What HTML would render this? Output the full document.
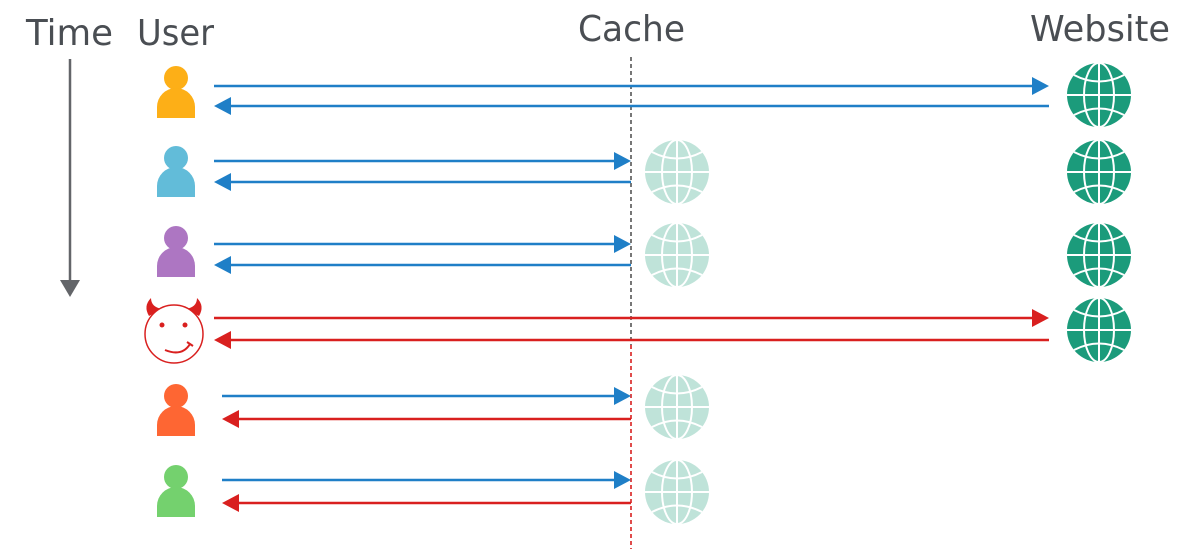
<!DOCTYPE html>
<html><head><meta charset="utf-8"><style>
html,body{margin:0;padding:0;background:#fff;}
svg{display:block;}
text{font-family:"DejaVu Sans","Liberation Sans",sans-serif;fill:#4a4e53;font-size:36px;}
</style></head><body>
<svg width="1200" height="555" viewBox="0 0 1200 555" xmlns="http://www.w3.org/2000/svg">
<defs>
<g id="globe">
<circle cx="0" cy="0" r="32"/>
<g fill="none" stroke="#fff" stroke-width="2">
<line x1="0" y1="-32" x2="0" y2="32"/>
<line x1="-32" y1="0" x2="32" y2="0"/>
<ellipse cx="0" cy="0" rx="15" ry="32"/>
<path d="M-25 -20 Q0 -7 25 -20"/>
<path d="M-25 20 Q0 7 25 20"/>
</g>
</g>
</defs>
<!-- Headers -->
<text x="26" y="45" textLength="87" lengthAdjust="spacingAndGlyphs">Time</text>
<text x="137" y="45" textLength="77" lengthAdjust="spacingAndGlyphs">User</text>
<text x="578" y="41" textLength="107" lengthAdjust="spacingAndGlyphs">Cache</text>
<text x="1030" y="41" textLength="140" lengthAdjust="spacingAndGlyphs">Website</text>

<!-- Time arrow -->
<line x1="70" y1="59" x2="70" y2="283" stroke="#636569" stroke-width="2.5"/>
<polygon points="60,280 80,280 70,297" fill="#636569"/>

<!-- dashed cache line -->
<line x1="631" y1="57" x2="631" y2="345" stroke="#555" stroke-width="1.6" stroke-dasharray="4,3"/>
<line x1="631" y1="345" x2="631" y2="549" stroke="#d9201f" stroke-width="1.6" stroke-dasharray="4,3"/>

<!-- Users -->
<g fill="#fdaf17"><circle cx="176" cy="78" r="12"/><path d="M157 118 L157 107 A19 19 0 0 1 195 107 L195 118 Z"/></g>
<g fill="#62bcd9"><circle cx="176" cy="158" r="12"/><path d="M157 197 L157 186 A19 19 0 0 1 195 186 L195 197 Z"/></g>
<g fill="#ad76c2"><circle cx="176" cy="238" r="12"/><path d="M157 277 L157 266 A19 19 0 0 1 195 266 L195 277 Z"/></g>
<g fill="#fe6633"><circle cx="176" cy="396" r="12"/><path d="M157 436 L157 425 A19 19 0 0 1 195 425 L195 436 Z"/></g>
<g fill="#74d16e"><circle cx="176" cy="477" r="12"/><path d="M157 517 L157 506 A19 19 0 0 1 195 506 L195 517 Z"/></g>

<!-- Devil -->
<g>
<path d="M149 316 Q143 306 151 298 Q151 307 162 309 Z" fill="#d9201f"/>
<path d="M199 316 Q205 306 197 298 Q197 307 186 309 Z" fill="#d9201f"/>
<circle cx="174" cy="334" r="29" fill="#fff" stroke="#d9201f" stroke-width="1.5"/>
<circle cx="162" cy="325" r="2.5" fill="#d9201f"/>
<circle cx="185" cy="325" r="2.5" fill="#d9201f"/>
<path d="M165 350 Q182 357 190 344" fill="none" stroke="#d9201f" stroke-width="2"/>
<path d="M187 342 L193 346" fill="none" stroke="#d9201f" stroke-width="2"/>
</g>

<!-- Arrows -->
<g stroke-width="2.5">
<line x1="214" y1="86" x2="1034" y2="86" stroke="#1f7fc7"/>
<polygon points="1049,86 1032,77 1032,95" fill="#1f7fc7"/>
<line x1="229" y1="106" x2="1049" y2="106" stroke="#1f7fc7"/>
<polygon points="214,106 231,97 231,115" fill="#1f7fc7"/>
<line x1="214" y1="161" x2="616" y2="161" stroke="#1f7fc7"/>
<polygon points="631,161 614,152 614,170" fill="#1f7fc7"/>
<line x1="229" y1="182" x2="631" y2="182" stroke="#1f7fc7"/>
<polygon points="214,182 231,173 231,191" fill="#1f7fc7"/>
<line x1="214" y1="244" x2="616" y2="244" stroke="#1f7fc7"/>
<polygon points="631,244 614,235 614,253" fill="#1f7fc7"/>
<line x1="229" y1="265" x2="631" y2="265" stroke="#1f7fc7"/>
<polygon points="214,265 231,256 231,274" fill="#1f7fc7"/>
<line x1="214" y1="318" x2="1034" y2="318" stroke="#d9201f"/>
<polygon points="1049,318 1032,309 1032,327" fill="#d9201f"/>
<line x1="229" y1="340" x2="1049" y2="340" stroke="#d9201f"/>
<polygon points="214,340 231,331 231,349" fill="#d9201f"/>
<line x1="222" y1="396" x2="616" y2="396" stroke="#1f7fc7"/>
<polygon points="631,396 614,387 614,405" fill="#1f7fc7"/>
<line x1="237" y1="419" x2="631" y2="419" stroke="#d9201f"/>
<polygon points="222,419 239,410 239,428" fill="#d9201f"/>
<line x1="222" y1="480" x2="616" y2="480" stroke="#1f7fc7"/>
<polygon points="631,480 614,471 614,489" fill="#1f7fc7"/>
<line x1="237" y1="503" x2="631" y2="503" stroke="#d9201f"/>
<polygon points="222,503 239,494 239,512" fill="#d9201f"/>
</g>

<!-- Website globes -->
<g fill="#1b9b7b">
<use href="#globe" x="1099" y="95"/>
<use href="#globe" x="1099" y="172"/>
<use href="#globe" x="1099" y="255"/>
<use href="#globe" x="1099" y="330"/>
</g>
<!-- Cache globes -->
<g fill="#bfe3d9">
<use href="#globe" x="677" y="172"/>
<use href="#globe" x="677" y="255"/>
<use href="#globe" x="677" y="407"/>
<use href="#globe" x="677" y="492"/>
</g>
</svg>
</body></html>
